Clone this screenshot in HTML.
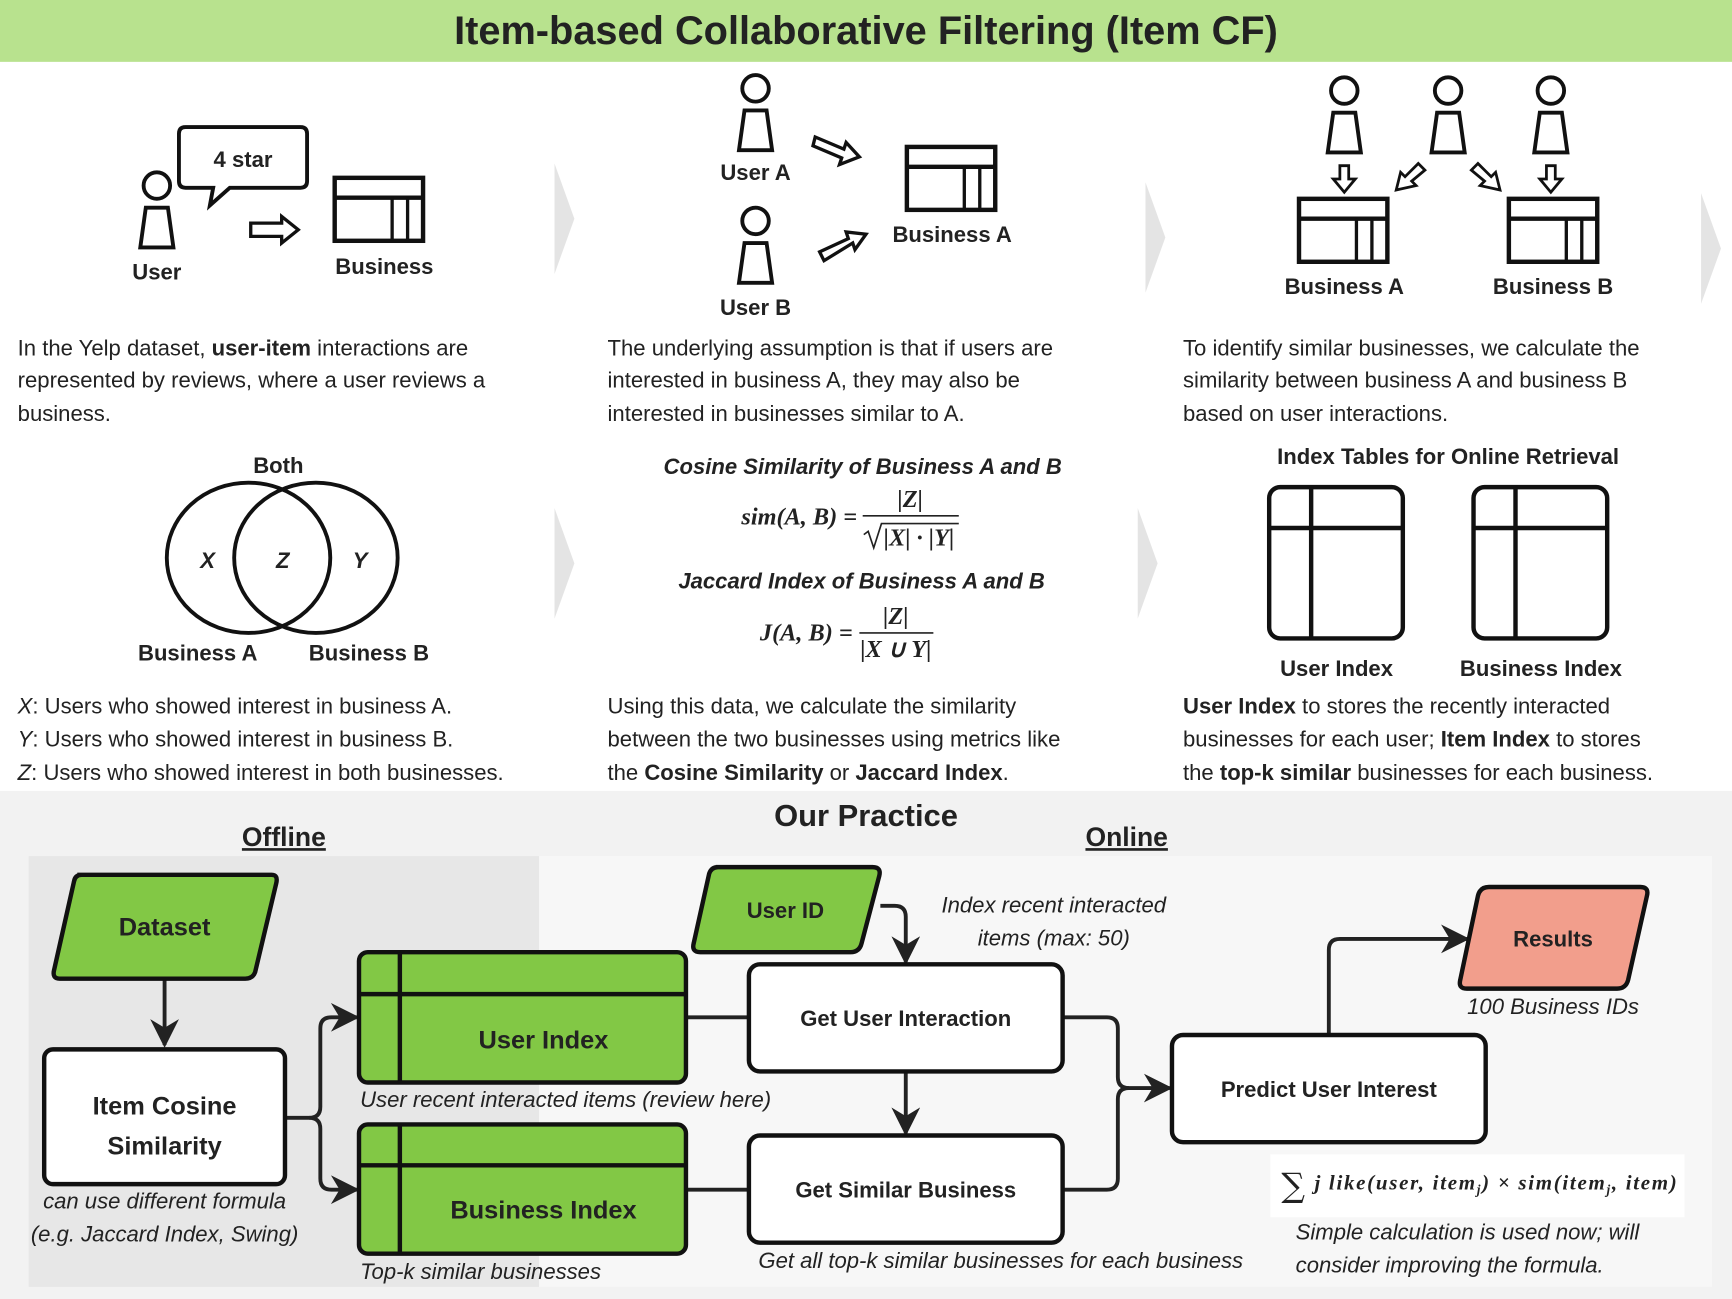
<!DOCTYPE html>
<html><head><meta charset="utf-8"><style>
html,body{margin:0;padding:0;background:#fff}
svg{display:block}
text{font-family:"Liberation Sans",sans-serif;fill:#222}
.b{font-weight:bold}
.t{font-size:20px}
.i{font-style:italic}
.m{font-family:"Liberation Serif",serif;font-style:italic;font-weight:bold;font-size:22px}
</style></head><body>
<svg width="1732" height="1299" viewBox="0 0 1568 1176" xmlns="http://www.w3.org/2000/svg">
<defs>
<marker id="a2" viewBox="0 0 10 10" refX="9" refY="5" markerWidth="26" markerHeight="26" orient="auto" markerUnits="userSpaceOnUse"><path d="M0,0 L10,5 L0,10 L3,5 Z" fill="#222"/></marker>
<g id="user"><circle cx="0" cy="0" r="12" fill="#fff" stroke="#111" stroke-width="3.5"/><path d="M-10,20 L10,20 L15,56 L-15,56 Z" fill="#fff" stroke="#111" stroke-width="3.5"/></g>
<g id="biz"><rect x="0" y="0" width="80" height="57" fill="#fff" stroke="#111" stroke-width="4"/><line x1="0" y1="18" x2="80" y2="18" stroke="#111" stroke-width="4"/><line x1="52" y1="18" x2="52" y2="57" stroke="#111" stroke-width="3"/><line x1="66" y1="18" x2="66" y2="57" stroke="#111" stroke-width="3"/></g>
<g id="idx"><rect x="0" y="0" width="121" height="137" rx="10" fill="#fff" stroke="#111" stroke-width="4"/><line x1="0" y1="37" x2="121" y2="37" stroke="#111" stroke-width="4"/><line x1="38" y1="0" x2="38" y2="137" stroke="#111" stroke-width="4"/></g>
<g id="chev"><path d="M0,0 L18,50 L0,100 Z" fill="#e4e4e4"/></g>
</defs>
<rect width="1568" height="1176" fill="#fff"/>
<rect width="1568" height="56" fill="#b8e28e"/>
<text x="784" y="40" text-anchor="middle" class="b" style="font-size:36px">Item-based Collaborative Filtering (Item CF)</text>

<use href="#chev" x="502" y="148"/>
<use href="#chev" x="1037" y="165"/>
<use href="#chev" x="1540" y="175"/>
<use href="#chev" x="502" y="460"/>
<use href="#chev" x="1030" y="460"/>

<use href="#user" x="142" y="168"/>
<path d="M172,115 L272,115 Q278,115 278,121 L278,164 Q278,170 272,170 L208,170 L190,186 L193,170 L168,170 Q162,170 162,164 L162,121 Q162,115 168,115 Z" fill="#fff" stroke="#111" stroke-width="3.5"/>
<text x="220" y="151" text-anchor="middle" class="b t">4 star</text>
<path d="M227,202 L255,202 L255,196 L270,208 L255,220 L255,214 L227,214 Z" fill="#fff" stroke="#111" stroke-width="3"/>
<use href="#biz" x="303" y="161"/>
<text x="142" y="253" text-anchor="middle" class="b t">User</text>
<text x="348" y="248" text-anchor="middle" class="b t">Business</text>
<text x="16" y="322" class="t">In the Yelp dataset, <tspan class="b">user-item</tspan> interactions are</text>
<text x="16" y="351" class="t">represented by reviews, where a user reviews a</text>
<text x="16" y="381" class="t">business.</text>

<use href="#user" x="684" y="80"/>
<use href="#user" x="684" y="200"/>
<text x="684" y="163" text-anchor="middle" class="b t">User A</text>
<text x="684" y="285" text-anchor="middle" class="b t">User B</text>
<path d="M738,124 L764,135 L766,129 L778,142 L760,149 L762,143 L736,132 Z" fill="#fff" stroke="#111" stroke-width="3"/>
<path d="M742,228 L768,216 L766,210 L784,212 L774,226 L772,220 L746,236 Z" fill="#fff" stroke="#111" stroke-width="3"/>
<use href="#biz" x="821" y="133"/>
<text x="862" y="219" text-anchor="middle" class="b t">Business A</text>
<text x="550" y="322" class="t">The underlying assumption is that if users are</text>
<text x="550" y="351" class="t">interested in business A, they may also be</text>
<text x="550" y="381" class="t">interested in businesses similar to A.</text>

<use href="#user" x="1217" y="82"/>
<use href="#user" x="1311" y="82"/>
<use href="#user" x="1404" y="82"/>
<path d="M1213,150 L1221,150 L1221,162 L1227,162 L1217,174 L1207,162 L1213,162 Z" fill="#fff" stroke="#111" stroke-width="2.5"/>
<path d="M1400,150 L1408,150 L1408,162 L1414,162 L1404,174 L1394,162 L1400,162 Z" fill="#fff" stroke="#111" stroke-width="2.5"/>
<path d="M1284,148 L1290,154 L1278,164 L1282,168 L1264,172 L1268,156 L1272,160 Z" fill="#fff" stroke="#111" stroke-width="2.5"/>
<path d="M1338,148 L1332,154 L1344,164 L1340,168 L1358,172 L1354,156 L1350,160 Z" fill="#fff" stroke="#111" stroke-width="2.5"/>
<use href="#biz" x="1176" y="180"/>
<use href="#biz" x="1366" y="180"/>
<text x="1217" y="266" text-anchor="middle" class="b t">Business A</text>
<text x="1406" y="266" text-anchor="middle" class="b t">Business B</text>
<text x="1071" y="322" class="t">To identify similar businesses, we calculate the</text>
<text x="1071" y="351" class="t">similarity between business A and business B</text>
<text x="1071" y="381" class="t">based on user interactions.</text>

<text x="252" y="428" text-anchor="middle" class="b t">Both</text>
<ellipse cx="225" cy="505" rx="74" ry="68" fill="none" stroke="#111" stroke-width="3.5"/>
<ellipse cx="286" cy="505" rx="74" ry="68" fill="none" stroke="#111" stroke-width="3.5"/>
<text x="188" y="514" text-anchor="middle" class="b i t">X</text>
<text x="256" y="514" text-anchor="middle" class="b i t">Z</text>
<text x="326" y="514" text-anchor="middle" class="b i t">Y</text>
<text x="179" y="598" text-anchor="middle" class="b t">Business A</text>
<text x="334" y="598" text-anchor="middle" class="b t">Business B</text>
<text x="16" y="646" class="t"><tspan class="i">X</tspan>: Users who showed interest in business A.</text>
<text x="16" y="676" class="t"><tspan class="i">Y</tspan>: Users who showed interest in business B.</text>
<text x="16" y="706" class="t"><tspan class="i">Z</tspan>: Users who showed interest in both businesses.</text>

<text x="781" y="429" text-anchor="middle" class="b i t">Cosine Similarity of Business A and B</text>
<text x="776" y="475" text-anchor="end" class="m">sim(A, B) =</text>
<text x="824" y="459" text-anchor="middle" class="m">|Z|</text>
<line x1="781" y1="467" x2="868" y2="467" stroke="#222" stroke-width="1.5"/>
<path d="M782,484 L786,481 L791,496 L798,474 L868,474" fill="none" stroke="#222" stroke-width="1.5"/>
<text x="832" y="494" text-anchor="middle" class="m">|X| · |Y|</text>
<text x="780" y="533" text-anchor="middle" class="b i t">Jaccard Index of Business A and B</text>
<text x="772" y="580" text-anchor="end" class="m">J(A, B) =</text>
<text x="811" y="565" text-anchor="middle" class="m">|Z|</text>
<line x1="778" y1="573" x2="845" y2="573" stroke="#222" stroke-width="1.5"/>
<text x="811" y="595" text-anchor="middle" class="m">|X ∪ Y|</text>
<text x="550" y="646" class="t">Using this data, we calculate the similarity</text>
<text x="550" y="676" class="t">between the two businesses using metrics like</text>
<text x="550" y="706" class="t">the <tspan class="b">Cosine Similarity</tspan> or <tspan class="b">Jaccard Index</tspan>.</text>

<text x="1311" y="420" text-anchor="middle" class="b t">Index Tables for Online Retrieval</text>
<use href="#idx" x="1149" y="441"/>
<use href="#idx" x="1334" y="441"/>
<text x="1210" y="612" text-anchor="middle" class="b t">User Index</text>
<text x="1395" y="612" text-anchor="middle" class="b t">Business Index</text>
<text x="1071" y="646" class="t"><tspan class="b">User Index</tspan> to stores the recently interacted</text>
<text x="1071" y="676" class="t">businesses for each user; <tspan class="b">Item Index</tspan> to stores</text>
<text x="1071" y="706" class="t">the <tspan class="b">top-k similar</tspan> businesses for each business.</text>

<rect x="0" y="716" width="1568" height="460" fill="#f2f2f2"/>
<rect x="26" y="775" width="462" height="390" fill="#e7e7e7"/>
<rect x="488" y="775" width="1062" height="390" fill="#f7f7f7"/>
<text x="784" y="748" text-anchor="middle" class="b" style="font-size:28px">Our Practice</text>
<text x="257" y="766" text-anchor="middle" class="b" style="font-size:24px;text-decoration:underline">Offline</text>
<text x="1020" y="766" text-anchor="middle" class="b" style="font-size:24px;text-decoration:underline">Online</text>

<g fill="none" stroke="#222" stroke-width="3.5">
<line x1="149" y1="886" x2="149" y2="946" marker-end="url(#a2)"/>
<path d="M258,1012 L280,1012 Q290,1012 290,1002 L290,931 Q290,921 300,921 L323,921" marker-end="url(#a2)"/>
<path d="M280,1012 Q290,1012 290,1022 L290,1067 Q290,1077 300,1077 L323,1077" marker-end="url(#a2)"/>
<line x1="621" y1="921" x2="678" y2="921"/>
<line x1="621" y1="1077" x2="678" y2="1077"/>
<path d="M797,820 L810,820 Q820,820 820,830 L820,871" marker-end="url(#a2)"/>
<line x1="820" y1="970" x2="820" y2="1026" marker-end="url(#a2)"/>
<path d="M962,921 L1002,921 Q1012,921 1012,931 L1012,975 Q1012,985 1022,985 L1059,985" marker-end="url(#a2)"/>
<path d="M962,1077 L1002,1077 Q1012,1077 1012,1067 L1012,995 Q1012,985 1022,985"/>
<path d="M1203,937 L1203,860 Q1203,850 1213,850 L1328,850" marker-end="url(#a2)"/>
</g>

<path d="M70,792 L246,792 Q252,792 250,800 L231,880 Q229,886 222,886 L54,886 Q47,886 49,878 L67,798 Q68,792 74,792 Z" fill="#82c845" stroke="#111" stroke-width="4"/>
<text x="149" y="847" text-anchor="middle" class="b" style="font-size:23px">Dataset</text>
<rect x="40" y="950" width="218" height="122" rx="8" fill="#fff" stroke="#111" stroke-width="4"/>
<text x="149" y="1009" text-anchor="middle" class="b" style="font-size:23px">Item Cosine</text>
<text x="149" y="1045" text-anchor="middle" class="b" style="font-size:23px">Similarity</text>
<text x="149" y="1094" text-anchor="middle" class="i t">can use different formula</text>
<text x="149" y="1124" text-anchor="middle" class="i t">(e.g. Jaccard Index, Swing)</text>

<rect x="325" y="862" width="296" height="118" rx="8" fill="#82c845" stroke="#111" stroke-width="4"/>
<line x1="325" y1="900" x2="621" y2="900" stroke="#111" stroke-width="4"/>
<line x1="362" y1="862" x2="362" y2="980" stroke="#111" stroke-width="4"/>
<text x="492" y="949" text-anchor="middle" class="b" style="font-size:23px">User Index</text>
<text x="326" y="1002" class="i t">User recent interacted items (review here)</text>
<rect x="325" y="1018" width="296" height="117" rx="8" fill="#82c845" stroke="#111" stroke-width="4"/>
<line x1="325" y1="1055" x2="621" y2="1055" stroke="#111" stroke-width="4"/>
<line x1="362" y1="1018" x2="362" y2="1135" stroke="#111" stroke-width="4"/>
<text x="492" y="1103" text-anchor="middle" class="b" style="font-size:23px">Business Index</text>
<text x="326" y="1158" class="i t">Top-k similar businesses</text>

<path d="M648,785 L790,785 Q798,785 796,793 L780,854 Q778,862 770,862 L634,862 Q626,862 628,854 L642,791 Q644,785 650,785 Z" fill="#82c845" stroke="#111" stroke-width="4"/>
<text x="711" y="831" text-anchor="middle" class="b t">User ID</text>
<text x="954" y="826" text-anchor="middle" class="i t">Index recent interacted</text>
<text x="954" y="856" text-anchor="middle" class="i t">items (max: 50)</text>

<rect x="678" y="873" width="284" height="97" rx="10" fill="#fff" stroke="#111" stroke-width="4"/>
<text x="820" y="929" text-anchor="middle" class="b t">Get User Interaction</text>
<rect x="678" y="1028" width="284" height="97" rx="10" fill="#fff" stroke="#111" stroke-width="4"/>
<text x="820" y="1084" text-anchor="middle" class="b t">Get Similar Business</text>
<text x="906" y="1148" text-anchor="middle" class="i t">Get all top-k similar businesses for each business</text>

<rect x="1061" y="937" width="284" height="97" rx="10" fill="#fff" stroke="#111" stroke-width="4"/>
<text x="1203" y="993" text-anchor="middle" class="b t">Predict User Interest</text>

<path d="M1348,803 L1485,803 Q1493,803 1491,811 L1474,887 Q1472,895 1464,895 L1328,895 Q1320,895 1322,887 L1338,811 Q1340,803 1348,803 Z" fill="#f29e8c" stroke="#111" stroke-width="4"/>
<text x="1406" y="857" text-anchor="middle" class="b t">Results</text>
<text x="1406" y="918" text-anchor="middle" class="i t">100 Business IDs</text>

<rect x="1150" y="1045" width="375" height="57" fill="#fff"/>
<text x="1160" y="1083" style="font-family:'DejaVu Serif',serif;font-size:30px">∑</text>
<text x="1190" y="1077" textLength="328" style="font-family:'Liberation Serif',serif;font-style:italic;font-weight:bold;font-size:19px">j like(user, item<tspan font-size="12" dy="4">j</tspan><tspan dy="-4">) × sim(item</tspan><tspan font-size="12" dy="4">j</tspan><tspan dy="-4">, item)</tspan></text>
<text x="1173" y="1122" class="i t">Simple calculation is used now; will</text>
<text x="1173" y="1152" class="i t">consider improving the formula.</text>
</svg>
</body></html>
